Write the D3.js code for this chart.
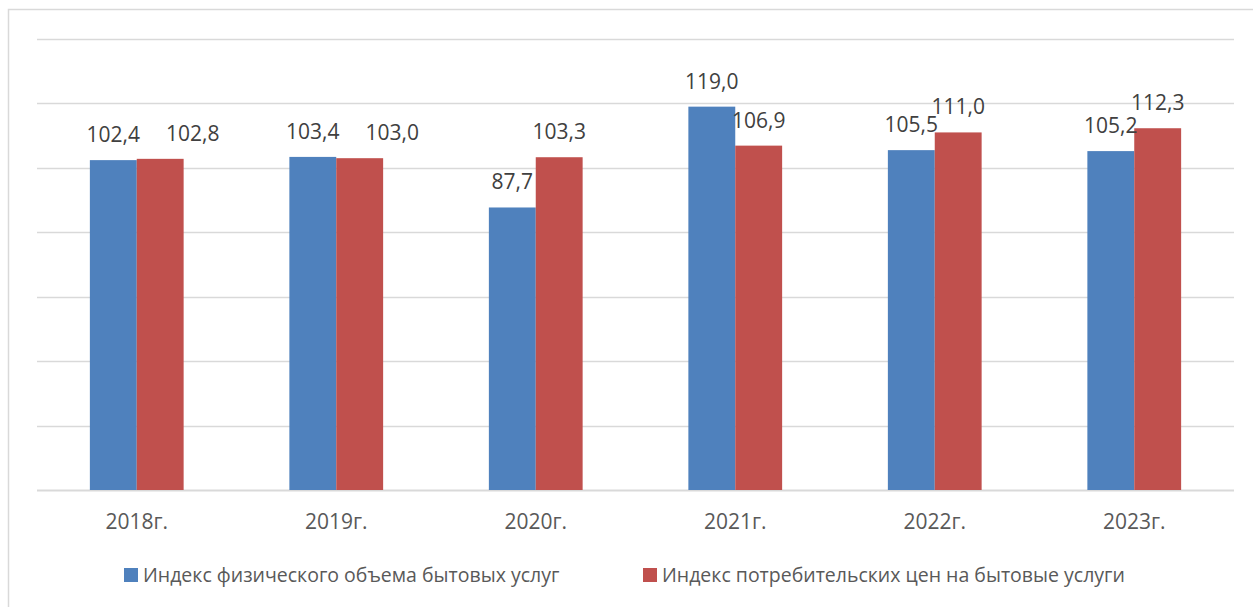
<!DOCTYPE html>
<html>
<head>
<meta charset="utf-8">
<script src="https://cdn.jsdelivr.net/npm/d3@7"></script>
<style>
  body { margin: 0; background: #fff; }
  svg { display: block; font-family: "Open Sans", "Noto Sans", sans-serif; }
</style>
</head>
<body>
<div id="chart"></div>
<script>
// data
const years = ["2018г.", "2019г.", "2020г.", "2021г.", "2022г.", "2023г."];
const seriesNames = [
  "Индекс физического объема бытовых услуг",
  "Индекс потребительских цен на бытовые услуги"
];
const volumeIndex = [102.4, 103.4, 87.7, 119.0, 105.5, 105.2];
const priceIndex = [102.8, 103.0, 103.3, 106.9, 111.0, 112.3];
const yTicks = [0, 20, 40, 60, 80, 100, 120, 140];
const colors = ["#4F81BD", "#C0504D"];

const width = 1253, height = 607;
const plot = { left: 37, right: 1234, top: 39, bottom: 490 };

const svg = d3.select("#chart").append("svg")
  .attr("width", width)
  .attr("height", height);

// chart border
svg.append("rect")
  .attr("x", 8.5).attr("y", 9.5)
  .attr("width", width - 6).attr("height", height + 10)
  .attr("fill", "none")
  .attr("stroke", "#D9D9D9")
  .attr("stroke-width", 1.5);

const y = d3.scaleLinear().domain([0, 140]).range([plot.bottom, plot.top]);

const x0 = d3.scaleBand().domain(years).range([plot.left, plot.right]);
const groupW = x0.bandwidth() * 0.47;
const x1 = d3.scaleBand().domain(d3.range(seriesNames.length)).range([0, groupW]);

// gridlines
svg.append("g")
  .selectAll("line")
  .data(yTicks)
  .join("line")
  .attr("x1", plot.left).attr("x2", plot.right)
  .attr("y1", d => Math.round(y(d)) + 0.5)
  .attr("y2", d => Math.round(y(d)) + 0.5)
  .attr("stroke", "#D9D9D9")
  .attr("stroke-width", d => d === 0 ? 2 : 1.5);

const rows = years.map((yr, i) => ({ year: yr, values: [volumeIndex[i], priceIndex[i]] }));

const groups = svg.append("g")
  .selectAll("g")
  .data(rows)
  .join("g")
  .attr("transform", d => `translate(${x0(d.year) + (x0.bandwidth() - groupW) / 2},0)`);

groups.selectAll("rect")
  .data(d => d.values.map((v, k) => ({ v, k })))
  .join("rect")
  .attr("x", d => x1(d.k))
  .attr("width", x1.bandwidth())
  .attr("y", d => y(d.v))
  .attr("height", d => y(0) - y(d.v))
  .attr("fill", d => colors[d.k]);

// value labels
const fmt = v => v.toFixed(1).replace(".", ",");
groups.selectAll("text")
  .data(d => d.values.map((v, k) => ({ v, k })))
  .join("text")
  .attr("x", d => x1(d.k) + x1.bandwidth() / 2)
  .attr("y", d => y(d.v) - 18)
  .attr("text-anchor", "middle")
  .attr("font-size", "21px")
  .attr("fill", "#404040")
  .text(d => fmt(d.v));

// push the second label right when it collides with the first one
groups.each(function () {
  const labels = d3.select(this).selectAll("text").nodes();
  const a = labels[0].getBBox(), b = labels[1].getBBox();
  if (Math.abs(a.y - b.y) < 16 && b.x < a.x + a.width + 26) {
    const shift = a.x + a.width + 26 - b.x;
    d3.select(labels[1]).attr("x", +labels[1].getAttribute("x") + shift);
  }
});

// x axis labels
const xAxis = d3.axisBottom(x0).tickSize(0).tickPadding(0);
const xg = svg.append("g")
  .attr("transform", `translate(0,${plot.bottom})`)
  .call(xAxis);
xg.select(".domain").remove();
xg.selectAll("text")
  .attr("dy", 0)
  .attr("y", 39)
  .attr("font-size", "21px")
  .attr("font-family", "'Open Sans', 'Noto Sans', sans-serif")
  .attr("fill", "#595959");

// legend
const legendX = [124, 643];
const legend = svg.append("g")
  .selectAll("g")
  .data(seriesNames)
  .join("g")
  .attr("transform", (d, i) => `translate(${legendX[i]},568)`);

legend.append("rect")
  .attr("width", 14).attr("height", 14)
  .attr("fill", (d, i) => colors[i]);

legend.append("text")
  .attr("x", 19).attr("y", 14)
  .attr("font-size", "19.5px")
  .attr("fill", "#595959")
  .text(d => d);
</script>
</body>
</html>
